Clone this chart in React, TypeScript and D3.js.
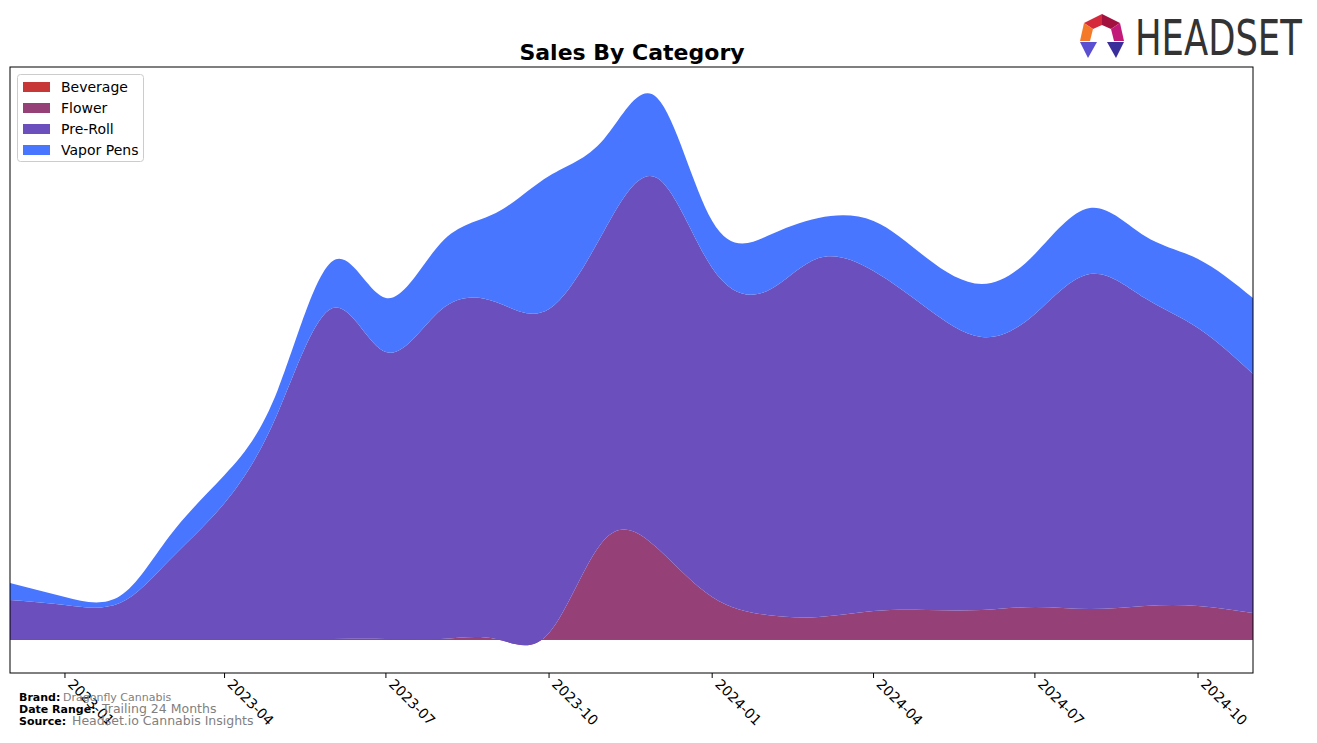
import React from "react";
import * as d3 from "d3";

const months: string[] = [
  "2022-12", "2023-01", "2023-02", "2023-03", "2023-04", "2023-05", "2023-06", "2023-07",
  "2023-08", "2023-09", "2023-10", "2023-11", "2023-12", "2024-01", "2024-02", "2024-03",
  "2024-04", "2024-05", "2024-06", "2024-07", "2024-08", "2024-09", "2024-10", "2024-11",
];
const categories: string[] = ["Beverage", "Flower", "Pre-Roll", "Vapor Pens"];
const beverage: number[] = [1, 1, 1, 1, 1, 1, 1, 1, 1, 1, 1, 1, 1, 1, 1, 1, 1, 1, 1, 1, 1, 1, 1, 1];
const flower: number[] = [0, 0, 0, 0, 0, 0, 0, 0, 0, 0, 6, 99, 91, 42, 24, 22, 28, 29, 29, 32, 30, 33, 33, 26];
const preRoll: number[] = [39, 34, 36, 79, 136, 226, 331, 287, 329, 337, 324, 309, 370, 329, 324, 359, 340, 302, 273, 293, 335, 308, 278, 239];
const vaporPens: number[] = [17, 8, 7, 24, 28, 23, 47, 54, 67, 89, 133, 92, 80, 47, 55, 40, 50, 50, 53, 60, 66, 62, 69, 76];
const tickLabels: string[] = ["2023-01", "2023-04", "2023-07", "2023-10", "2024-01", "2024-04", "2024-07", "2024-10"];
const colors: string[] = ["#c83737", "#964078", "#6a4fbd", "#4876ff"];

const W = 1317;
const H = 743;
const L = 10, R = 1253, T = 67, B = 673;

export default function App() {
  const parse = d3.utcParse("%Y-%m");
  const dates = months.map((m) => parse(m) as Date);
  const x = d3.scaleUtc().domain([dates[0], dates[dates.length - 1]]).range([L, R]);
  const y = d3.scaleLinear().domain([-33, 573]).range([B, T]);

  const rows = months.map((m, i) => ({
    date: dates[i],
    "Beverage": beverage[i],
    "Flower": flower[i],
    "Pre-Roll": preRoll[i],
    "Vapor Pens": vaporPens[i],
  }));
  const series = d3.stack<any>().keys(categories)(rows);
  const area = d3
    .area<any>()
    .x((d) => x(d.data.date))
    .y0((d) => y(d[0]))
    .y1((d) => y(d[1]))
    .curve(d3.curveNatural);

  const ticks = tickLabels.map((t) => ({ label: t, x: x(parse(t) as Date) }));

  return (
    <svg width={W} height={H} style={{ position: "absolute", left: 0, top: 0, fontFamily: "DejaVu Sans" }}>
      <rect x={0} y={0} width={W} height={H} fill="#fff" />
      <defs>
        <clipPath id="plot">
          <rect x={L} y={T} width={R - L} height={B - T} />
        </clipPath>
      </defs>
      <g clipPath="url(#plot)">
        {series.map((s, i) => (
          <path key={categories[i]} d={area(s as any) || ""} fill={colors[i]} />
        ))}
      </g>
      <rect x={L} y={T} width={R - L} height={B - T} fill="none" stroke="#000" strokeWidth={1} />
      {ticks.map((t) => (
        <g key={t.label}>
          <line x1={t.x} x2={t.x} y1={B} y2={B + 5} stroke="#000" />
          <text
            transform={`translate(${t.x + 2},${B + 12}) rotate(45)`}
            fontSize={14}
            textAnchor="start"
            fill="#000"
          >
            {t.label}
          </text>
        </g>
      ))}
      <text x={632} y={60} textAnchor="middle" fontSize={22} fontWeight="bold">
        Sales By Category
      </text>
      <g>
        <rect x={17.5} y={74.5} width={126} height={87} rx={3} fill="#fff" fillOpacity={0.8} stroke="#cccccc" />
        {categories.map((c, i) => (
          <g key={c}>
            <rect x={23} y={82 + i * 21} width={27} height={10} fill={colors[i]} />
            <text x={61} y={92 + i * 21} fontSize={14}>
              {c}
            </text>
          </g>
        ))}
      </g>
      <g fontSize={11}>
        <text x={19} y={701} fontWeight="bold">Brand:</text>
        <text x={63} y={701} fill="#808080">Dragonfly Cannabis</text>
        <text x={19} y={713} fontWeight="bold">Date Range:</text>
        <text x={102} y={713} fill="#808080" fontSize={12.5}>Trailing 24 Months</text>
        <text x={19} y={725} fontWeight="bold">Source:</text>
        <text x={72} y={725} fill="#808080" fontSize={12.5}>Headset.io Cannabis Insights</text>
      </g>
      <g>
        <polygon points="1102,14 1084,23 1093,29 1102,25" fill="#d42a3c" />
        <polygon points="1102,14 1120,23 1111,29 1102,25" fill="#a3123f" />
        <polygon points="1084,23 1080,41 1090,41 1093,29" fill="#f47a2a" />
        <polygon points="1120,23 1124,41 1114,41 1111,29" fill="#c21a78" />
        <polygon points="1080,42 1097,42 1088,58" fill="#5a4fd0" />
        <polygon points="1107,42 1124,42 1116,58" fill="#3a2f9a" />
        <text
          transform="translate(1135,55) scale(0.708,1)"
          fontSize={50}
          fill="#333333"
          fontFamily="DejaVu Sans"
        >
          HEADSET
        </text>
      </g>
    </svg>
  );
}
